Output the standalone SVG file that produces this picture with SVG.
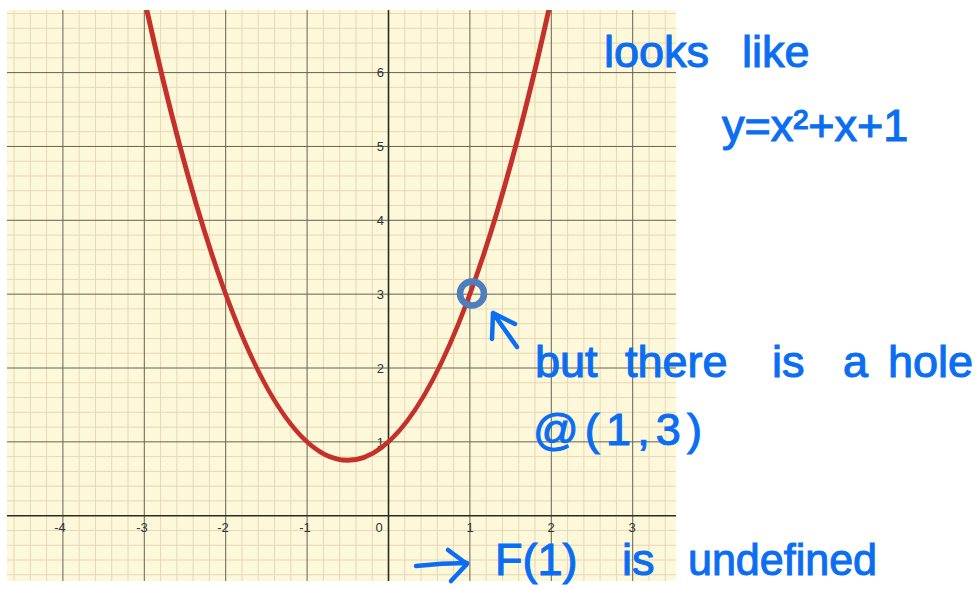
<svg xmlns="http://www.w3.org/2000/svg" width="978" height="590" viewBox="0 0 978 590">
  <style>
    .minor { stroke: #e6d7b6; stroke-width: 1; fill: none; }
    .major { stroke: #66624f; stroke-width: 1; fill: none; }
    .axis { stroke: #2b2b22; stroke-width: 1.6; fill: none; }
    .tick { font-family: "Liberation Sans", Arial, sans-serif; font-size: 13px; fill: #333333; }
    .hand { font-family: "Liberation Sans", Arial, sans-serif; font-size: 45px; fill: #0b6ef2; stroke: #0b6ef2; stroke-width: 1.1; }
    .pen { stroke: #0b6ef2; stroke-width: 4.5; fill: none; stroke-linecap: round; stroke-linejoin: round; }
  </style>
  <defs>
    <clipPath id="plotclip"><rect x="7" y="10" width="669" height="571"/></clipPath>
  </defs>
  <rect width="978" height="590" fill="#ffffff"/>
  <g id="plot" clip-path="url(#plotclip)">
    <rect x="7" y="10" width="669" height="571" fill="#fdf8da"/>
    <path class="minor" d="M14.06,10V581M30.34,10V581M46.62,10V581M79.18,10V581M95.46,10V581M111.74,10V581M128.02,10V581M160.58,10V581M176.86,10V581M193.14,10V581M209.42,10V581M241.98,10V581M258.26,10V581M274.54,10V581M290.82,10V581M323.38,10V581M339.66,10V581M355.94,10V581M372.22,10V581M404.78,10V581M421.06,10V581M437.34,10V581M453.62,10V581M486.18,10V581M502.46,10V581M518.74,10V581M535.02,10V581M567.58,10V581M583.86,10V581M600.14,10V581M616.42,10V581M648.98,10V581M665.26,10V581
    M7,574.78H676M7,560.01H676M7,545.24H676M7,530.47H676M7,500.93H676M7,486.16H676M7,471.39H676M7,456.62H676M7,427.08H676M7,412.31H676M7,397.54H676M7,382.77H676M7,353.23H676M7,338.46H676M7,323.69H676M7,308.92H676M7,279.38H676M7,264.61H676M7,249.84H676M7,235.07H676M7,205.53H676M7,190.76H676M7,175.99H676M7,161.22H676M7,131.68H676M7,116.91H676M7,102.14H676M7,87.37H676M7,57.83H676M7,43.06H676M7,28.29H676M7,13.52H676"/>
    <path class="major" d="M62.9,10V581M144.3,10V581M225.7,10V581M307.1,10V581M469.9,10V581M551.3,10V581M632.7,10V581M7,441.85H676M7,368H676M7,294.15H676M7,220.3H676M7,146.45H676M7,72.6H676"/>
    <path class="axis" d="M7,515.7H676M388.5,10V581"/>
    <g id="tick-labels">
      <text class="tick" x="60" y="532" text-anchor="middle">-4</text>
      <text class="tick" x="142" y="532" text-anchor="middle">-3</text>
      <text class="tick" x="223" y="532" text-anchor="middle">-2</text>
      <text class="tick" x="305" y="532" text-anchor="middle">-1</text>
      <text class="tick" x="379" y="532" text-anchor="middle">0</text>
      <text class="tick" x="470" y="532" text-anchor="middle">1</text>
      <text class="tick" x="551" y="532" text-anchor="middle">2</text>
      <text class="tick" x="632" y="532" text-anchor="middle">3</text>
      <text class="tick" x="384" y="446.5" text-anchor="end">1</text>
      <text class="tick" x="384" y="372.7" text-anchor="end">2</text>
      <text class="tick" x="384" y="298.8" text-anchor="end">3</text>
      <text class="tick" x="384" y="225" text-anchor="end">4</text>
      <text class="tick" x="384" y="151.1" text-anchor="end">5</text>
      <text class="tick" x="384" y="77.3" text-anchor="end">6</text>
    </g>
    <g id="curve">
      <path d="M146.74,9.76Q347.8,910.86 548.86,9.76" fill="none" stroke="#c4312a" stroke-width="5"/>
    </g>
  </g>
  <g id="hole">
    <circle cx="472" cy="293.5" r="12" fill="none" stroke="#4d7fc0" stroke-width="6.5"/>
  </g>
  <g id="notes">
    <text class="hand" y="67" font-size="48"><tspan x="604">looks</tspan><tspan x="742">like</tspan></text>
    <text class="hand" y="141" font-size="48"><tspan x="722">y=x²+x+1</tspan></text>
    <text class="hand" y="377"><tspan x="535">but</tspan><tspan x="625">there</tspan><tspan x="772">is</tspan><tspan x="843">a</tspan><tspan x="888">hole</tspan></text>
    <text class="hand" x="533" y="445" textLength="169" lengthAdjust="spacing">@(1,3)</text>
    <text class="hand" y="575"><tspan x="495">F(1)</tspan><tspan x="622">is</tspan><tspan x="688" textLength="189" lengthAdjust="spacingAndGlyphs">undefined</tspan></text>
  </g>
  <g id="connectors">
    <path class="pen" d="M517,347L493,313M515,324L493,313L492,339"/>
    <path class="pen" d="M416,566Q442,563 467,563M448,550L467,564L451,581"/>
  </g>
</svg>
